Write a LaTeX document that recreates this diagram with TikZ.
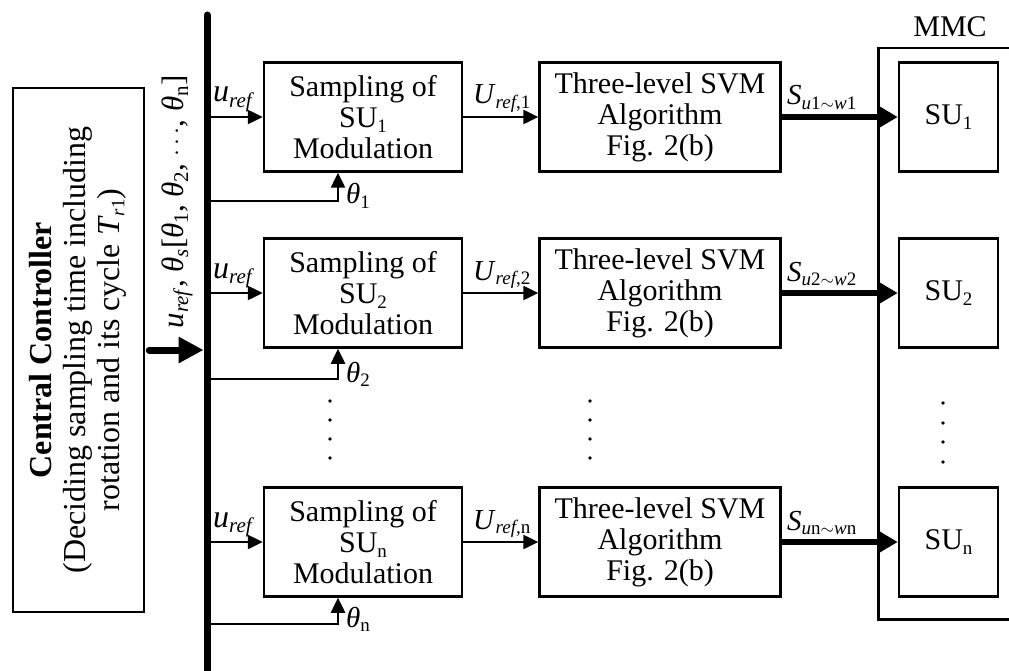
\documentclass[tikz,border=0pt]{standalone}
\usepackage{fontspec}
\setmainfont{Liberation Serif}
\usetikzlibrary{arrows.meta}
\newcommand\fs{\fontsize{30}{31}\selectfont}
\newcommand\fl{\fontsize{29}{29}\selectfont}
\newcommand\sbx[1]{\raisebox{-0.16em}{\fontsize{19}{19}\selectfont #1}}
\newcommand\sby[1]{\raisebox{-0.16em}{\fontsize{21}{21}\selectfont #1}}
\tikzset{
  box/.style={draw, line width=2.5pt, inner sep=0pt, align=center, font=\fs, minimum height=109pt},
  sampbox/.style={box, minimum width=198pt},
  svmbox/.style={box, minimum width=241pt},
  subox/.style={box, minimum width=99pt},
  arr/.style={line width=2.5pt, -{Triangle[length=15pt,width=14pt]}},
  thickarr/.style={line width=5.5pt, -{Triangle[length=20pt,width=22pt]}},
  lbl/.style={font=\fl, inner sep=0pt, anchor=base west},
  dotc/.style={fill=black}
}
\begin{document}
\begin{tikzpicture}[x=1pt,y=-1pt]
\useasboundingbox (0,0) rectangle (1009,671);
\clip (0,0) rectangle (1009,671);

% central controller
\node[draw, line width=2.5pt, minimum width=131pt, minimum height=524pt, inner sep=0pt,
      font=\fontsize{32}{34}\selectfont] (ctrl) at (78.5,350)
  {\rotatebox{90}{\begin{tabular}{@{}c@{}}\textbf{Central Controller}\\(Deciding sampling time including\\rotation and its cycle \textit{T}\sbx{\textit{r}1})\end{tabular}}};

% bus
\coordinate (bt) at (207,15);
\coordinate (bb) at (207,690);
\coordinate (bc) at (207,350);
\draw[line width=7pt, line cap=round] (bt) -- (bb);
\draw[line width=7pt, line cap=round, shorten >=3.5pt, -{Triangle[length=25pt,width=25pt]}] ([xshift=4pt]ctrl.east) -- (bc);
\node[rotate=90, font=\fontsize{31}{31}\selectfont, inner sep=0pt] (buslbl) at (177,202)
  {\textit{u}\sby{\textit{ref}}, \textit{θ}\sby{\textit{s}}[\textit{θ}\sby{1}, \textit{θ}\sby{2}, $\cdots$, \textit{θ}\sby{n}]};

% MMC
\node[draw, line width=2.5pt, minimum width=160pt, minimum height=571pt, anchor=north west, inner sep=0pt] (mmc) at (877,47) {};
\node[font=\fs, inner sep=0pt] (mmclbl) at (950,27) {MMC};

% rows
\foreach \i/\y/\t/\n in {1/117/201/1, 2/293/379/2, 3/542/624/n}{
  \coordinate (b\i) at (207,\y);
  \coordinate (c\i) at (207,\t);
  \coordinate (t\i) at (338,\t);
  \node[sampbox] (s\i) at (363,\y) {Sampling of\\SU\sbx{\n}\\Modulation};
  \node[svmbox] (v\i) at (660,\y) {Three-level SVM\\Algorithm\\Fig. 2(b)};
  \node[subox] (u\i) at (948.5,\y) {SU\sbx{\n}};
  \draw[arr] (b\i) -- (s\i.west);
  \draw[arr] (s\i.east) -- (v\i.west);
  \draw[thickarr] (v\i.east) -- (u\i.west);
  \draw[arr] (c\i) -- (t\i) -- (t\i |- s\i.south);
  \node[lbl, font=\fontsize{32}{32}\selectfont] (ul\i) at (213,\y-15) {\textit{u}\sby{\textit{ref}}};
  \node[lbl] (Ul\i) at (473,\y-13) {\textit{U}\sbx{\textit{ref},\n}};
  \node[lbl] (Sl\i) at (787,\y-12) {\textit{S}\sbx{\textit{u}\n$\sim$\textit{w}\n}};
  \node[lbl] (th\i) at (346,\t+3) {\textit{θ}\sbx{\n}};
}

% dots
\foreach \x in {330,590}{
  \foreach \yy in {401,420,439,458}{
    \fill[dotc] (\x,\yy) circle (1.8pt);
  }
}
\foreach \yy in {403,423,442,462}{
  \fill[dotc] (943,\yy) circle (1.8pt);
}
\end{tikzpicture}
\end{document}
